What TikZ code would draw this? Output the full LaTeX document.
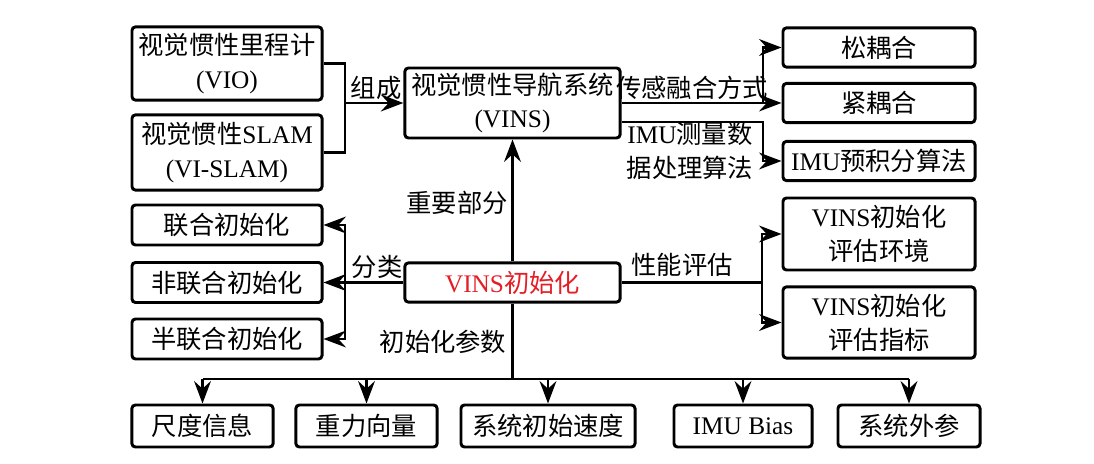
\documentclass[tikz,border=0pt]{standalone}
\usepackage{fontspec}
\setmainfont{Noto Sans CJK SC}
\newfontfamily\enfont{Liberation Serif}
\newcommand{\en}[1]{{\enfont #1}}
\usetikzlibrary{arrows.meta}
\definecolor{initred}{RGB}{228,30,38}

\begin{document}
\begin{tikzpicture}[x=0.025cm,y=-0.025cm,
		box/.style={draw,line width=2.1pt,rounded corners=2.5pt,align=center,inner sep=0pt,font=\fontsize{18}{24}\selectfont},
		conn/.style={line width=1.7pt},
		arr/.style={conn,-{Stealth[length=16pt,width=12pt,inset=5.5pt]}},
		lbl/.style={inner sep=0pt,align=center,font=\fontsize{18}{24}\selectfont}]
		\useasboundingbox (0,0) rectangle (1094,464);
		% top row
		\node[box,minimum width=4.75cm,minimum height=1.83cm] (vio) at (227,63.5) {视觉惯性里程计\\\en{(VIO)}};
		\node[box,minimum width=4.75cm,minimum height=1.88cm] (slam) at (227,152.5) {视觉惯性\en{SLAM}\\\en{(VI-SLAM)}};
		\node[box,minimum width=5.38cm,minimum height=1.75cm] (vins) at (512.5,103) {视觉惯性导航系统\\\en{(VINS)}};
		\node[box,minimum width=4.8cm,minimum height=0.98cm] (song) at (879,47.5) {松耦合};
		\node[box,minimum width=4.8cm,minimum height=0.98cm] (jin) at (879,103) {紧耦合};
		\node[box,minimum width=4.8cm,minimum height=0.98cm] (imu) at (879,161) {\en{IMU}预积分算法};
		% middle row
		\node[box,minimum width=5.38cm,minimum height=0.98cm,text=initred] (init) at (512.5,282.5) {\en{VINS}初始化};
		\node[box,minimum width=4.75cm,minimum height=1cm] (lh) at (227,225) {联合初始化};
		\node[box,minimum width=4.75cm,minimum height=1cm] (flh) at (227,282.5) {非联合初始化};
		\node[box,minimum width=4.75cm,minimum height=1cm] (blh) at (227,339) {半联合初始化};
		\node[box,minimum width=4.8cm,minimum height=1.8cm] (env) at (879,234) {\en{VINS}初始化\\评估环境};
		\node[box,minimum width=4.8cm,minimum height=1.78cm] (idx) at (879,322.5) {\en{VINS}初始化\\评估指标};
		% bottom row
		\node[box,minimum width=3.53cm,minimum height=1.05cm] (cd) at (202.5,426) {尺度信息};
		\node[box,minimum width=3.53cm,minimum height=1.05cm] (zl) at (366.5,426) {重力向量};
		\node[box,minimum width=4.35cm,minimum height=1.05cm] (sd) at (548,426) {系统初始速度};
		\node[box,minimum width=3.45cm,minimum height=1.05cm] (bias) at (743,426) {\en{IMU Bias}};
		\node[box,minimum width=3.55cm,minimum height=1.05cm] (wc) at (909,426) {系统外参};
		% junctions
		\coordinate (jA) at (345,103);
		\coordinate (jB) at (763,103);
		\coordinate (jC) at (763,122);
		\coordinate (jD) at (345,282.5);
		\coordinate (jE) at (762,282.5);
		\coordinate (jF) at (512.5,379);
		% connectors
		\draw[conn] (vio.east) -| (jA) |- (slam.east);
		\draw[arr] (jA) -- (vins.west);
		\draw[arr] (vins.east) -- (jin.west);
		\draw[arr] (jB) |- (song.west);
		\draw[arr] (vins.east |- jC) -- (jC) |- (imu.west);
		\draw[arr] (init.north) -- (vins.south);
		\draw[arr] (init.west) -- (flh.east);
		\draw[arr] (jD) |- (lh.east);
		\draw[arr] (jD) |- (blh.east);
		\draw[conn] (init.east) -- (jE);
		\draw[arr] (jE) |- (env.west);
		\draw[arr] (jE) |- (idx.west);
		\draw[conn] (init.south) -- (jF);
		\draw[conn] (cd.north |- jF) -- (wc.north |- jF);
		\foreach \n in {cd,zl,sd,bias,wc}
			\draw[arr] (\n.north |- jF) -- (\n.north);
		% labels
		\node[lbl] (lzc) at (376,88) {组成};
		\node[lbl] (lcg) at (692,88) {传感融合方式};
		\node[lbl] (lsj) at (690,151) {\en{IMU}测量数\\据处理算法};
		\node[lbl] (lzy) at (457,203) {重要部分};
		\node[lbl] (lfl) at (377,267) {分类};
		\node[lbl] (lcs) at (443,342) {初始化参数};
		\node[lbl] (lpg) at (682,265) {性能评估};
	\end{tikzpicture}
\end{document}
